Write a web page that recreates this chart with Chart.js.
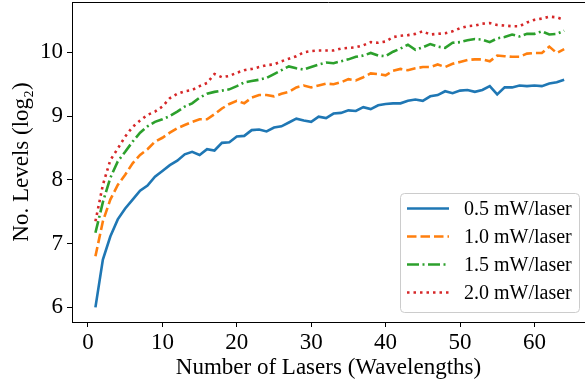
<!DOCTYPE html>
<html>
<head>
<meta charset="utf-8">
<script src="https://cdn.jsdelivr.net/npm/chart.js@4/dist/chart.umd.min.js"></script>
<style>
  html, body { margin: 0; padding: 0; background: #fff; overflow: hidden; }
</style>
</head>
<body>
<canvas id="levelsChart" width="585" height="383"></canvas>
<script>
// Number of lasers (x values)
const lasers = [1, 2, 3, 4, 5, 6, 7, 8, 9, 10, 11, 12, 13, 14, 15, 16, 17, 18, 19, 20,
  21, 22, 23, 24, 25, 26, 27, 28, 29, 30, 31, 32, 33, 34, 35, 36, 37, 38, 39, 40,
  41, 42, 43, 44, 45, 46, 47, 48, 49, 50, 51, 52, 53, 54, 55, 56, 57, 58, 59, 60,
  61, 62, 63, 64];

const seriesLabels = ["0.5 mW/laser", "1.0 mW/laser", "1.5 mW/laser", "2.0 mW/laser"];

const levels05 = [6.00, 6.75, 7.11, 7.38, 7.55, 7.69, 7.83, 7.91, 8.05, 8.14,
  8.23, 8.30, 8.40, 8.44, 8.39, 8.48, 8.46, 8.58, 8.59, 8.68,
  8.69, 8.78, 8.79, 8.76, 8.82, 8.84, 8.90, 8.96, 8.93, 8.91,
  8.99, 8.97, 9.04, 9.05, 9.09, 9.08, 9.14, 9.11, 9.17, 9.19,
  9.20, 9.20, 9.24, 9.26, 9.24, 9.31, 9.33, 9.39, 9.36, 9.40,
  9.41, 9.38, 9.41, 9.47, 9.34, 9.45, 9.45, 9.48, 9.47, 9.48,
  9.47, 9.51, 9.53, 9.57];

const levels10 = [6.80, 7.35, 7.69, 7.92, 8.08, 8.26, 8.39, 8.48, 8.60, 8.66,
  8.74, 8.81, 8.86, 8.91, 8.95, 8.95, 9.03, 9.12, 9.19, 9.24,
  9.20, 9.29, 9.33, 9.33, 9.31, 9.35, 9.38, 9.45, 9.48, 9.45,
  9.48, 9.51, 9.50, 9.53, 9.58, 9.56, 9.61, 9.67, 9.66, 9.64,
  9.71, 9.74, 9.72, 9.75, 9.77, 9.77, 9.81, 9.77, 9.82, 9.85,
  9.88, 9.89, 9.89, 9.86, 9.95, 9.94, 9.93, 9.93, 9.98, 9.99,
  9.99, 10.09, 9.99, 10.05];

const levels15 = [7.17, 7.65, 8.03, 8.29, 8.44, 8.60, 8.74, 8.84, 8.91, 8.95,
  9.00, 9.07, 9.15, 9.20, 9.29, 9.35, 9.38, 9.40, 9.42, 9.47,
  9.53, 9.55, 9.57, 9.60, 9.66, 9.72, 9.78, 9.75, 9.73, 9.77,
  9.81, 9.84, 9.83, 9.86, 9.89, 9.93, 9.95, 9.99, 9.95, 9.94,
  10.01, 10.06, 10.12, 10.04, 10.08, 10.13, 10.09, 10.07, 10.15, 10.16,
  10.19, 10.21, 10.20, 10.16, 10.22, 10.24, 10.28, 10.25, 10.29, 10.29,
  10.33, 10.28, 10.29, 10.34];

const levels20 = [7.35, 7.92, 8.31, 8.49, 8.68, 8.83, 8.93, 9.02, 9.07, 9.15,
  9.28, 9.35, 9.39, 9.41, 9.47, 9.52, 9.66, 9.61, 9.63, 9.68,
  9.72, 9.74, 9.77, 9.80, 9.81, 9.86, 9.90, 9.94, 10.00, 10.02,
  10.03, 10.03, 10.03, 10.06, 10.07, 10.08, 10.11, 10.16, 10.15, 10.17,
  10.24, 10.26, 10.27, 10.29, 10.33, 10.28, 10.29, 10.30, 10.33, 10.38,
  10.41, 10.42, 10.45, 10.46, 10.43, 10.42, 10.41, 10.41, 10.47, 10.51,
  10.53, 10.56, 10.55, 10.51];

const xTicks = [0, 10, 20, 30, 40, 50, 60];
const yTicks = [6, 7, 8, 9, 10];

const serif = "'Liberation Serif', 'DejaVu Serif', serif";

function points(values) {
  return lasers.map((n, i) => ({ x: n, y: values[i] }));
}

function makeLine(label, values, color, dash) {
  return {
    label: label,
    data: points(values),
    borderColor: color,
    backgroundColor: color,
    borderWidth: 2.6,
    borderDash: dash,
    borderCapStyle: "butt",
    pointRadius: 0,
    tension: 0,
    fill: false
  };
}

// top spine (the right one falls outside the crop)
const frame = {
  id: "frame",
  afterDraw(chart) {
    const { ctx, chartArea } = chart;
    ctx.save();
    ctx.strokeStyle = "#000";
    ctx.lineWidth = 1;
    ctx.beginPath();
    ctx.moveTo(chartArea.left, chartArea.top + 0.5);
    ctx.lineTo(chartArea.right, chartArea.top + 0.5);
    ctx.stroke();
    ctx.restore();
  }
};

// matplotlib style legend in the lower right corner
const boxLegend = {
  id: "boxLegend",
  afterDraw(chart) {
    const ctx = chart.ctx;
    const x0 = 400, y0 = 193, w = 179, h = 119, r = 4;
    ctx.save();
    ctx.fillStyle = "rgba(255,255,255,0.85)";
    ctx.strokeStyle = "#cccccc";
    ctx.lineWidth = 1;
    ctx.beginPath();
    ctx.roundRect(x0 + 0.5, y0 + 0.5, w, h, r);
    ctx.fill();
    ctx.stroke();

    ctx.font = "20px " + serif;
    ctx.textBaseline = "middle";
    ctx.textAlign = "left";
    chart.data.datasets.forEach((ds, i) => {
      const y = 208.5 + i * 28;
      ctx.strokeStyle = ds.borderColor;
      ctx.lineWidth = ds.borderWidth;
      ctx.lineCap = "butt";
      ctx.setLineDash(ds.borderDash || []);
      ctx.beginPath();
      ctx.moveTo(407, y);
      ctx.lineTo(449, y);
      ctx.stroke();
      ctx.setLineDash([]);
      ctx.fillStyle = "#000";
      ctx.fillText(ds.label, 464, y + 1);
    });
    ctx.restore();
  }
};

new Chart(document.getElementById("levelsChart").getContext("2d"), {
  type: "line",
  data: {
    datasets: [
      makeLine(seriesLabels[0], levels05, "#1f77b4", []),
      makeLine(seriesLabels[1], levels10, "#ff7f0e", [9.5, 4]),
      makeLine(seriesLabels[2], levels15, "#2ca02c", [12, 3.5, 2, 3.5]),
      makeLine(seriesLabels[3], levels20, "#d62728", [2.5, 4])
    ]
  },
  options: {
    responsive: false,
    animation: false,
    layout: { padding: { top: 2, left: 0, right: 0, bottom: 0 } },
    plugins: {
      legend: { display: false },
      tooltip: { enabled: false }
    },
    scales: {
      x: {
        type: "linear",
        min: -2.15,
        max: 66.8,
        afterBuildTicks: (s) => { s.ticks = xTicks.map(v => ({ value: v })); },
        afterFit: (s) => {
          s.height = 61;
          s.paddingLeft = 0; s.paddingRight = 0;
        },
        border: { display: true, color: "#000", width: 1 },
        grid: { drawOnChartArea: false, drawTicks: true, tickLength: 5, color: "#000" },
        ticks: { color: "#000", padding: 2, maxRotation: 0, font: { family: serif, size: 23 } },
        title: {
          display: true,
          text: "Number of Lasers (Wavelengths)",
          color: "#000",
          padding: { top: 0, bottom: 1 },
          font: { family: serif, size: 23 }
        }
      },
      y: {
        type: "linear",
        min: 5.77,
        max: 10.79,
        afterBuildTicks: (s) => { s.ticks = yTicks.map(v => ({ value: v })); },
        afterFit: (s) => {
          s.width = 72;
          s.paddingTop = 0; s.paddingBottom = 0;
        },
        border: { display: true, color: "#000", width: 1 },
        grid: { drawOnChartArea: false, drawTicks: true, tickLength: 5, color: "#000" },
        ticks: { color: "#000", padding: 4, font: { family: serif, size: 23 } },
        title: {
          display: true,
          text: "No. Levels (log₂)",
          color: "#000",
          padding: { top: 8, bottom: 0 },
          font: { family: serif, size: 23 }
        }
      }
    }
  },
  plugins: [frame, boxLegend]
});
</script>
</body>
</html>
